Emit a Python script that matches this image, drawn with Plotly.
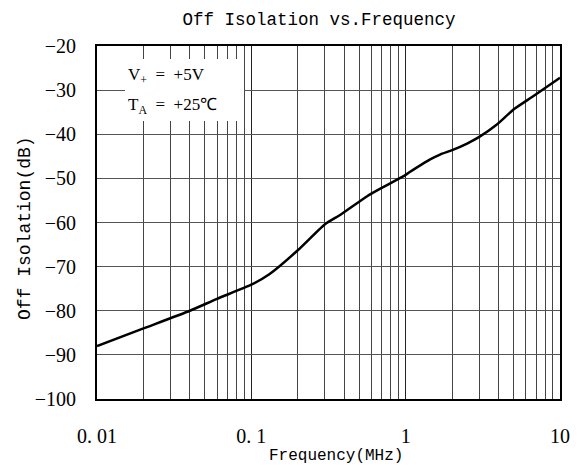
import plotly.graph_objects as go

freq_mhz = [0.01, 0.02, 0.04, 0.06, 0.1, 0.13, 0.2, 0.3, 0.38, 0.56, 0.68, 0.88, 1.0, 1.07, 1.15, 1.44, 1.67, 2.0, 2.5, 3.0, 3.9, 5.0, 6.7, 10.0]
off_iso_db = [-88.0, -84.0, -80.0, -77.3, -74.1, -71.8, -66.3, -60.4, -58.2, -54.1, -52.4, -50.3, -49.2, -48.5, -47.8, -45.7, -44.6, -43.6, -42.1, -40.6, -37.8, -34.4, -31.4, -27.2]

x_tickvals = [0.01, 0.1, 1, 10]
x_ticktext = ["0. 01", "0. 1", "1", "10"]
y_tickvals = [-20, -30, -40, -50, -60, -70, -80, -90, -100]
y_ticktext = ["\u221220", "\u221230", "\u221240", "\u221250", "\u221260", "\u221270", "\u221280", "\u221290", "\u2212100"]

title_text = "Off Isolation vs.Frequency"
x_title = "Frequency(MHz)"
y_title = "Off Isolation(dB)"
note_v = "V<sub>+</sub>\u00a0\u00a0=\u00a0\u00a0+5V"
note_t = "T<sub>A</sub>\u00a0\u00a0=\u00a0\u00a0+25\u2103"

mono = "Liberation Mono"
serif = "Liberation Serif"

# page body has an 8px margin: figure is 8px smaller and margins shifted so the
# plot area lands at x 97..560, y 46..399 in the 579x469 window
W, H = 571, 461
L, T, R, B = 89, 38, 19, 70
PX0, PY0, PW, PH = 97, 46, 463, 353

def px(xp):
    return (xp - PX0) / PW

def py(yp):
    return (PY0 + PH - yp) / PH

fig = go.Figure()
fig.add_trace(go.Scatter(x=freq_mhz, y=off_iso_db, mode="lines",
                         line=dict(color="black", width=2.5, shape="spline", smoothing=0.5),
                         showlegend=False, hoverinfo="skip"))

fig.update_layout(
    template="none",
    width=W, height=H,
    margin=dict(l=L, r=R, t=T, b=B, autoexpand=False),
    paper_bgcolor="white", plot_bgcolor="white",
    font=dict(family=serif, color="black"),
    title=dict(text=title_text, x=(319 - 8) / W, xref="container", xanchor="center",
               y=1 - (19 - 8) / H, yref="container", yanchor="middle",
               font=dict(family=mono, size=17.5, color="black")),
    xaxis=dict(type="log", range=[-2, 1], tickvals=x_tickvals, ticktext=x_ticktext,
               showgrid=True, gridcolor="#222", gridwidth=1,
               minor=dict(dtick="D1", showgrid=True, gridcolor="#444", gridwidth=1, ticks=""),
               showline=True, linecolor="black", linewidth=2, mirror=True,
               ticks="", ticklabelstandoff=18, automargin=False,
               tickfont=dict(family=serif, size=20, color="black"),
               zeroline=False),
    yaxis=dict(range=[-100, -20], tickvals=y_tickvals, ticktext=y_ticktext,
               showgrid=True, gridcolor="#555", gridwidth=1,
               showline=True, linecolor="black", linewidth=2, mirror=True,
               ticks="", ticklabelstandoff=15, automargin=False,
               tickfont=dict(family=serif, size=20, color="black"),
               zeroline=False),
)

fig.add_annotation(xref="paper", yref="paper", x=px(336), y=py(456),
                   xanchor="center", yanchor="middle", text=x_title, showarrow=False,
                   font=dict(family=mono, size=16, color="black"))
fig.add_annotation(xref="paper", yref="paper", x=px(25), y=py(228),
                   xanchor="center", yanchor="middle", text=y_title, showarrow=False, textangle=-90,
                   font=dict(family=mono, size=18, color="black"))

fig.add_shape(type="rect", xref="paper", yref="paper",
              x0=px(125), x1=px(244), y0=py(121), y1=py(59),
              fillcolor="white", line=dict(width=0), layer="above")

fig.add_annotation(xref="paper", yref="paper", x=px(126), y=py(76),
                   xanchor="left", yanchor="middle", text=note_v, showarrow=False,
                   font=dict(family=serif, size=17, color="black"))
fig.add_annotation(xref="paper", yref="paper", x=px(126), y=py(106),
                   xanchor="left", yanchor="middle", text=note_t, showarrow=False,
                   font=dict(family=serif, size=17, color="black"))

fig.write_html("out.html")
